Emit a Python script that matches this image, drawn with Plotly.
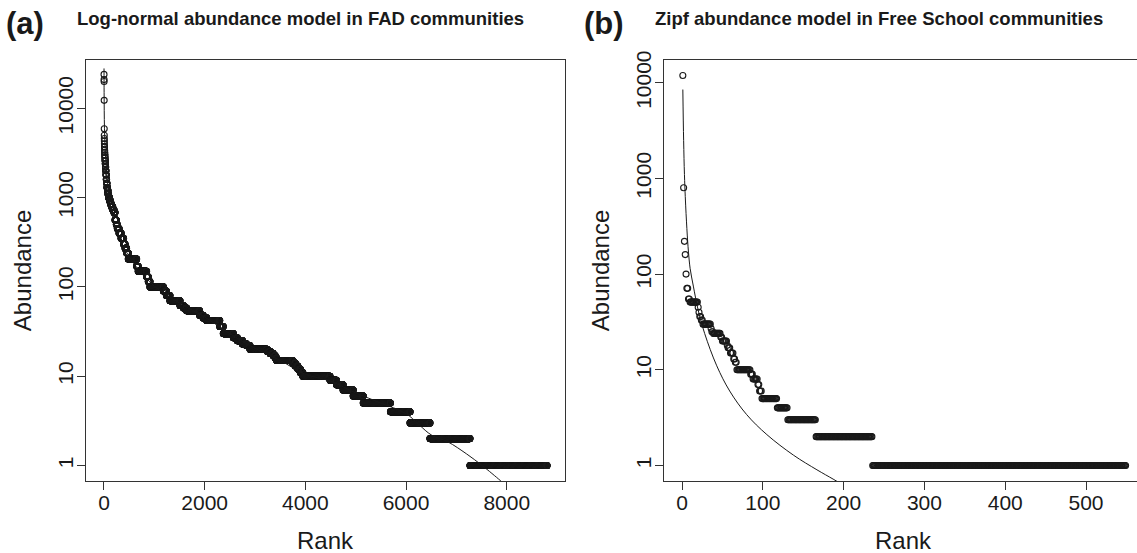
import numpy as np
import plotly.graph_objects as go

# ---------------- data ----------------
# Panel (a): rank-abundance, run-length form: first rank of each abundance level
a_step_rank = [1, 2, 3, 4, 5, 6, 7, 8, 9, 10, 12, 14, 16, 19, 22, 26, 30, 35, 40, 46,
               53, 60, 70, 80, 93, 110, 130, 150, 175, 199, 220, 245, 265, 300, 340, 391, 420, 450, 483, 650,
               680, 848, 880, 914, 1180, 1240, 1311, 1510, 1580, 1642, 1900, 1970, 2040, 2300, 2370, 2570, 2650, 2750, 2830, 2900,
               3240, 3300, 3360, 3400, 3430, 3750, 3800, 3850, 3900, 3950, 4490, 4620, 4750, 4950, 5150, 5690, 6080, 6475, 7270]
a_step_abund = [24000, 21000, 20000, 12300, 5900, 5000, 4600, 4300, 4000, 3700, 3400, 3200, 3000, 2800, 2600, 2400, 2200, 2000, 1800, 1600,
                1450, 1300, 1200, 1100, 1000, 920, 850, 790, 730, 680, 560, 500, 450, 400, 350, 300, 270, 240, 205, 170,
                150, 130, 115, 100, 90, 80, 70, 62, 58, 54, 48, 45, 42, 36, 30, 27, 25, 23, 22, 20,
                19, 18, 17, 16, 15, 14, 13, 12, 11, 10, 9, 8, 7, 6, 5, 4, 3, 2, 1]
a_last_rank = 8800

# Panel (a): fitted log-normal model
a_fit_rank = [1, 3, 10, 30, 70, 150, 300, 600, 1000, 1500, 2000, 2500, 3000, 3500, 4000, 4500, 5000, 5500,
              6000, 6500, 6830, 7200, 7510, 7870, 7950]
a_fit_val = [28000, 15000, 6000, 3000, 1500, 700, 360, 180, 102, 66, 46, 30, 20.5, 15, 10.5, 8.8, 6.5, 5.0,
             3.8, 2.2, 1.84, 1.35, 1.0, 0.68, 0.62]

# Panel (b): rank-abundance, run-length form
b_step_rank = [1, 2, 3, 4, 5, 6, 8, 10, 20, 21, 22, 24, 26, 36, 37, 39, 48, 50, 56, 57,
               60, 64, 66, 68, 85, 88, 94, 96, 99, 118, 131, 166, 236]
b_step_abund = [11900, 800, 220, 160, 100, 71, 55, 51, 45, 40, 36, 33, 30, 27, 25, 24, 22, 20, 18, 17,
                15, 13, 12, 10, 9, 8, 7, 6, 5, 4, 3, 2, 1]
b_last_rank = 549

# Panel (b): fitted Zipf model
b_fit_rank = [1, 2, 3, 4, 5, 6, 7, 8, 10, 14, 20, 28, 43, 59, 80, 105, 138, 167, 187, 200]
b_fit_val = [8500, 2500, 1100, 650, 430, 300, 220, 170, 115, 75, 42, 24, 11, 6.0, 3.4, 2.1, 1.28, 0.9, 0.72, 0.62]

a_xticks = [0, 2000, 4000, 6000, 8000]
b_xticks = [0, 100, 200, 300, 400, 500]
y_ticks = [1, 10, 100, 1000, 10000]


def expand(step_rank, step_abund, last):
    starts = list(step_rank) + [last + 1]
    ranks, vals = [], []
    for i, v in enumerate(step_abund):
        r = np.arange(starts[i], starts[i + 1])
        ranks.append(r)
        vals.append(np.full(len(r), v, dtype=float))
    return np.concatenate(ranks), np.concatenate(vals)


a_r, a_v = expand(a_step_rank, a_step_abund, a_last_rank)
b_r, b_v = expand(b_step_rank, b_step_abund, b_last_rank)

W, H = 1137, 553
FONT = "Liberation Sans, Arial, Helvetica, sans-serif"
INK = "#1a1a1a"
AX = "#333333"


def px(x):
    return x / W


def py(y):
    return 1 - y / H


marker = dict(symbol="circle-open", size=6, color=INK, line=dict(width=1.1, color=INK))

fig = go.Figure()
fig.add_trace(go.Scatter(x=a_r, y=a_v, mode="markers", marker=marker, xaxis="x", yaxis="y", showlegend=False))
fig.add_trace(go.Scatter(x=a_fit_rank, y=a_fit_val, mode="lines", line=dict(color=INK, width=1, shape="spline"),
                         xaxis="x", yaxis="y", showlegend=False))
fig.add_trace(go.Scatter(x=b_r, y=b_v, mode="markers", marker=marker, xaxis="x2", yaxis="y2", showlegend=False))
fig.add_trace(go.Scatter(x=b_fit_rank, y=b_fit_val, mode="lines", line=dict(color=INK, width=1, shape="spline"),
                         xaxis="x2", yaxis="y2", showlegend=False))

tickfont = dict(family=FONT, size=21, color=INK)
common_x = dict(showgrid=False, zeroline=False, showline=True, linecolor=AX, linewidth=1.4,
                ticks="outside", ticklen=8, tickwidth=1.4, tickcolor=AX, tickfont=tickfont,
                ticklabelstandoff=-6)
common_y = dict(type="log", showgrid=False, zeroline=False, showline=True, linecolor=AX, linewidth=1.4,
                ticks="outside", ticklen=8, tickwidth=1.4, tickcolor=AX, tickfont=tickfont,
                tickangle=-90, tickvals=y_ticks, ticktext=[str(t) for t in y_ticks], ticklabelstandoff=-5)

ydom = [py(480), py(52)]
fig.update_layout(
    width=W, height=H, autosize=False,
    margin=dict(l=0, r=0, t=0, b=0),
    paper_bgcolor="white", plot_bgcolor="white",
    xaxis=dict(domain=[px(86), px(565)], range=[-357, 9157], tickvals=a_xticks, mirror=True,
               anchor="y", **common_x),
    yaxis=dict(domain=ydom, range=[-0.176, 4.540], mirror=True, anchor="x", **common_y),
    xaxis2=dict(domain=[px(664), 1.0], range=[-22.3, 563.1], tickvals=b_xticks, mirror=True,
                anchor="y2", **common_x),
    yaxis2=dict(domain=ydom, range=[-0.1645, 4.2365], mirror=False, anchor="x2", **common_y),
)

ann = []
# panel letters
ann.append(dict(text="<b>(a)</b>", x=px(4), y=py(15), xanchor="left", yanchor="middle",
                font=dict(family=FONT, size=31, color=INK)))
ann.append(dict(text="<b>(b)</b>", x=px(582), y=py(15), xanchor="left", yanchor="middle",
                font=dict(family=FONT, size=31, color=INK)))
# titles
ann.append(dict(text="<b>Log-normal abundance model in FAD communities</b>", x=px(75), y=py(10),
                xanchor="left", yanchor="middle", font=dict(family=FONT, size=18.5, color=INK)))
ann.append(dict(text="<b>Zipf abundance model in Free School communities</b>", x=px(653), y=py(10),
                xanchor="left", yanchor="middle", font=dict(family=FONT, size=18.5, color=INK)))
# axis titles
for cx in (325.5, 903.5):
    ann.append(dict(text="Rank", x=px(cx), y=py(540), xanchor="center", yanchor="middle",
                    font=dict(family=FONT, size=24, color=INK)))
for cx in (22.5, 600.5):
    ann.append(dict(text="Abundance", x=px(cx), y=py(266), xanchor="center", yanchor="middle", textangle=-90,
                    font=dict(family=FONT, size=24, color=INK)))
for a in ann:
    a.update(xref="paper", yref="paper", showarrow=False)
fig.update_layout(annotations=ann)

fig.write_html("out.html")
